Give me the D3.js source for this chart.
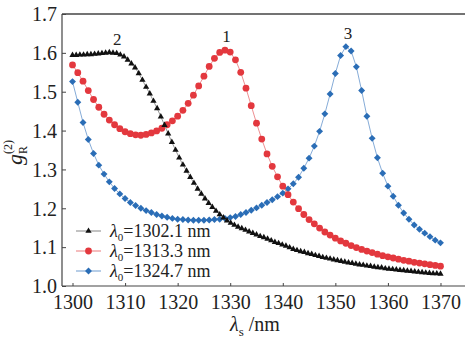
<!DOCTYPE html>
<html>
<head>
<meta charset="utf-8">
<script src="https://cdn.jsdelivr.net/npm/d3@7"></script>
<style>
  body { margin: 0; background: #fff; }
  svg text { font-family: 'Liberation Serif' !important; }
</style>
</head>
<body>
<div id="chart"></div>
<script>
// wavelength grid of the 1302.1 nm curve (denser sampling)
var lambdaBlack = [
  1300.0,1300.7,1301.4,1302.1,1302.8,1303.5,1304.2,1304.9,1305.6,1306.3,
  1307.0,1307.7,1308.4,1309.1,1309.8,1310.5,1311.2,1311.9,1312.6,1313.3,
  1314.0,1314.7,1315.4,1316.1,1316.8,1317.5,1318.2,1318.9,1319.6,1320.3,
  1321.0,1321.7,1322.4,1323.1,1323.8,1324.5,1325.2,1325.9,1326.6,1327.3,
  1328.0,1328.7,1329.4,1330.1,1330.8,1331.5,1332.2,1332.9,1333.6,1334.3,
  1335.0,1335.7,1336.4,1337.1,1337.8,1338.5,1339.2,1339.9,1340.6,1341.3,
  1342.0,1342.7,1343.4,1344.1,1344.8,1345.5,1346.2,1346.9,1347.6,1348.3,
  1349.0,1349.7,1350.4,1351.1,1351.8,1352.5,1353.2,1353.9,1354.6,1355.3,
  1356.0,1356.7,1357.4,1358.1,1358.8,1359.5,1360.2,1360.9,1361.6,1362.3,
  1363.0,1363.7,1364.4,1365.1,1365.8,1366.5,1367.2,1367.9,1368.6,1369.3,
  1370.0];
var g2Black = [
  1.594,1.594,1.595,1.595,1.596,1.596,1.597,1.598,1.599,1.600,
  1.601,1.600,1.599,1.595,1.590,1.582,1.572,1.562,1.547,1.530,
  1.512,1.495,1.476,1.457,1.436,1.414,1.392,1.370,1.350,1.330,
  1.312,1.296,1.280,1.265,1.250,1.237,1.225,1.213,1.203,1.193,
  1.184,1.176,1.168,1.162,1.157,1.152,1.148,1.144,1.140,1.136,
  1.132,1.128,1.125,1.121,1.117,1.113,1.110,1.106,1.103,1.099,
  1.095,1.092,1.089,1.087,1.084,1.082,1.079,1.077,1.074,1.072,
  1.070,1.068,1.066,1.064,1.062,1.060,1.059,1.057,1.055,1.054,
  1.052,1.051,1.049,1.048,1.047,1.045,1.044,1.043,1.042,1.041,
  1.040,1.039,1.038,1.037,1.036,1.035,1.034,1.033,1.032,1.032,
  1.031];

// wavelength grid of the other two curves
var lambdaGrid = [
  1300,1301,1302,1303,1304,1305,1306,1307,1308,1309,
  1310,1311,1312,1313,1314,1315,1316,1317,1318,1319,
  1320,1321,1322,1323,1324,1325,1326,1327,1328,1329,
  1330,1331,1332,1333,1334,1335,1336,1337,1338,1339,
  1340,1341,1342,1343,1344,1345,1346,1347,1348,1349,
  1350,1351,1352,1353,1354,1355,1356,1357,1358,1359,
  1360,1361,1362,1363,1364,1365,1366,1367,1368,1369,
  1370];
var g2Red = [
  1.569,1.549,1.527,1.503,1.480,1.460,1.442,1.427,1.415,1.405,
  1.397,1.392,1.389,1.388,1.390,1.394,1.399,1.406,1.415,1.425,
  1.437,1.452,1.470,1.491,1.515,1.540,1.565,1.586,1.601,1.607,
  1.602,1.582,1.550,1.509,1.464,1.419,1.378,1.340,1.308,1.281,
  1.257,1.235,1.216,1.199,1.184,1.171,1.160,1.149,1.139,1.131,
  1.123,1.116,1.110,1.104,1.099,1.094,1.090,1.086,1.082,1.078,
  1.075,1.072,1.069,1.066,1.064,1.061,1.059,1.057,1.055,1.053,
  1.051];
var g2Blue = [
  1.526,1.473,1.421,1.377,1.341,1.311,1.288,1.268,1.251,1.237,
  1.225,1.215,1.207,1.200,1.194,1.189,1.184,1.180,1.177,1.174,
  1.172,1.171,1.170,1.169,1.169,1.169,1.170,1.171,1.172,1.174,
  1.176,1.179,1.184,1.189,1.195,1.201,1.208,1.215,1.222,1.230,
  1.239,1.250,1.263,1.280,1.303,1.329,1.360,1.398,1.443,1.494,
  1.547,1.593,1.616,1.605,1.564,1.503,1.437,1.380,1.330,1.290,
  1.257,1.231,1.208,1.188,1.172,1.157,1.146,1.136,1.127,1.118,
  1.111];

var xTicks = [1300, 1310, 1320, 1330, 1340, 1350, 1360, 1370];
var yTicks = [1.0, 1.1, 1.2, 1.3, 1.4, 1.5, 1.6, 1.7];
var legendLabels = ["=1302.1 nm", "=1313.3 nm", "=1324.7 nm"];
var peakLabels = ["2", "1", "3"];
var peakPos = [[1308.5, 1.60], [1329.3, 1.607], [1352.4, 1.616]];

var width = 465, height = 340;
var frame = {left: 62, top: 14, bottom: 286, right: 465};
var ink = "#222";

var svg = d3.select("#chart").append("svg")
    .attr("width", width)
    .attr("height", height);

var x = d3.scaleLinear().domain([1298, 1372]).range([frame.left, 451]);
var y = d3.scaleLinear().domain([1.0, 1.7]).range([frame.bottom, frame.top]);

// frame (right side is cut off in the original)
svg.append("line")
    .attr("x1", frame.left).attr("x2", frame.right)
    .attr("y1", frame.top).attr("y2", frame.top)
    .attr("stroke", "#444").attr("stroke-width", 1.4);

var xAxis = svg.append("g")
    .attr("transform", "translate(0," + frame.bottom + ")")
    .call(d3.axisBottom(x).tickValues(xTicks).tickSize(-3).tickPadding(0)
        .tickFormat(d3.format("d")));
xAxis.select(".domain").remove();
xAxis.selectAll(".tick line").attr("stroke", "#444");
xAxis.selectAll(".tick text")
    .attr("y", 23).attr("dy", 0).attr("fill", ink)
    .style("font-size", "20px");
xAxis.append("line")
    .attr("x1", frame.left).attr("x2", frame.right)
    .attr("stroke", "#444").attr("stroke-width", 1.2);

var yAxis = svg.append("g")
    .attr("transform", "translate(" + frame.left + ",0)")
    .call(d3.axisLeft(y).tickValues(yTicks).tickSize(-4).tickPadding(5)
        .tickFormat(d3.format(".1f")));
yAxis.select(".domain").remove();
yAxis.selectAll(".tick line").attr("stroke", "#444");
yAxis.selectAll(".tick text")
    .attr("dy", "0.34em").attr("fill", ink)
    .style("font-size", "20px");
yAxis.append("line")
    .attr("y1", frame.top).attr("y2", frame.bottom)
    .attr("stroke", "#444").attr("stroke-width", 1.2);

// x label
var xl = svg.append("text")
    .attr("x", 255).attr("y", 331)
    .attr("text-anchor", "middle").attr("fill", ink)
    .style("font-size", "20px");
xl.append("tspan").style("font-style", "italic").text("λ");
xl.append("tspan").attr("dy", 5).style("font-size", "13px").text("s");
xl.append("tspan").attr("dy", -5).text(" /nm");

// y label
var yl = svg.append("text")
    .attr("transform", "translate(22,165) rotate(-90)")
    .attr("fill", ink)
    .style("font-size", "22px");
yl.append("tspan").style("font-style", "italic").text("g");
yl.append("tspan").attr("dy", 5).style("font-size", "12px").text("R");
yl.append("tspan").attr("dx", -8).attr("dy", -15).style("font-size", "12px").text("(2)");

var series = [
  {xs: lambdaGrid, ys: g2Blue, color: "#2a6db6", line: "#86acd8", shape: "diamond"},
  {xs: lambdaGrid, ys: g2Red, color: "#e3383e", line: "#ee8f92", shape: "circle"},
  {xs: lambdaBlack, ys: g2Black, color: "#111", line: "#999", shape: "triangle"}
];

function marker(sel, shape, color) {
  if (shape == "circle") {
    sel.append("circle").attr("r", 3.4).attr("fill", color);
  } else if (shape == "diamond") {
    sel.append("path")
        .attr("d", d3.symbol(d3.symbolSquare, 24))
        .attr("transform", "rotate(45)")
        .attr("fill", color);
  } else {
    sel.append("path")
        .attr("d", d3.symbol(d3.symbolTriangle, 17))
        .attr("fill", color);
  }
}

var line = d3.line()
    .x(function(d) { return x(d[0]); })
    .y(function(d) { return y(d[1]); });

series.forEach(function(s) {
  var pts = s.xs.map(function(v, i) { return [v, s.ys[i]]; });
  svg.append("path")
      .attr("d", line(pts))
      .attr("fill", "none")
      .attr("stroke", s.line)
      .attr("stroke-width", 1);
  svg.append("g").selectAll("g")
      .data(pts)
      .enter().append("g")
      .attr("transform", function(d) { return "translate(" + x(d[0]) + "," + y(d[1]) + ")"; })
      .each(function() { marker(d3.select(this), s.shape, s.color); });
});

// peak numbers
peakLabels.forEach(function(t, i) {
  svg.append("text")
      .attr("x", x(peakPos[i][0]))
      .attr("y", y(peakPos[i][1]) - 8)
      .attr("text-anchor", "middle").attr("fill", ink)
      .style("font-size", "17px")
      .text(t);
});

// legend, drawn in the original order: black, red, blue
var legendOrder = [series[2], series[1], series[0]];
legendOrder.forEach(function(s, i) {
  var ly = 231 + i * 20;
  var g = svg.append("g").attr("transform", "translate(0," + ly + ")");
  g.append("line")
      .attr("x1", 76).attr("x2", 101)
      .attr("stroke", s.line).attr("stroke-width", 1.2);
  var m = g.append("g").attr("transform", "translate(88.5,0)");
  marker(m, s.shape, s.color);
  var t = g.append("text")
      .attr("x", 110).attr("y", 6).attr("fill", ink)
      .style("font-size", "18px");
  t.append("tspan").style("font-style", "italic").text("λ");
  t.append("tspan").attr("dy", 4).style("font-size", "11px").text("0");
  t.append("tspan").attr("dy", -4).text(legendLabels[i]);
});
</script>
</body>
</html>
